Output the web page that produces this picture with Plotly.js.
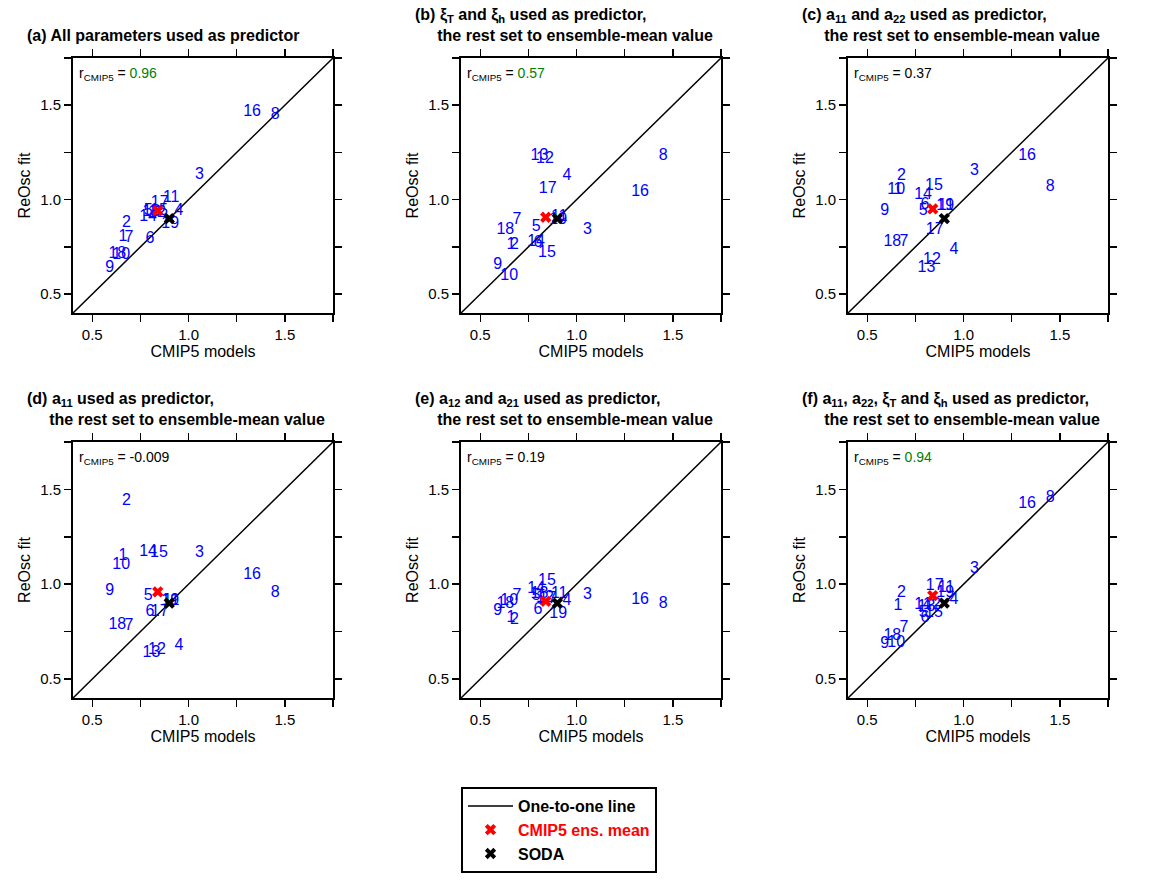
<html>
<head>
<meta charset="UTF-8">
<script src="https://cdn.plot.ly/plotly-3.0.1.min.js"></script>
</head>
<body style="margin:0;background:white;">
<div id="plot" style="width:1169px;height:888px;"></div>
<script>
    // model numbers 1..19
    const models = ['1','2','3','4','5','6','7','8','9','10','11','12','13','14','15','16','17','18','19'];
    // CMIP5 model values (x), same in every panel
    const cmip5 = [0.66, 0.677, 1.057, 0.95, 0.79, 0.80, 0.69, 1.45, 0.59, 0.65, 0.91, 0.836, 0.807, 0.79, 0.846, 1.33, 0.85, 0.63, 0.905];
    // ReOsc fit values (y) per panel
    const fitA = [0.80, 0.877, 1.132, 0.942, 0.94, 0.792, 0.797, 1.45, 0.638, 0.709, 1.009, 0.93, 0.935, 0.91, 0.94, 1.462, 0.982, 0.712, 0.873];
    const fitB = [0.762, 0.762, 0.838, 1.127, 0.855, 0.77, 0.894, 1.23, 0.656, 0.594, 0.91, 1.215, 1.23, 0.775, 0.718, 1.039, 1.057, 0.841, 0.89];
    const fitC = [1.053, 1.124, 1.15, 0.735, 0.942, 0.974, 0.774, 1.065, 0.938, 1.053, 0.965, 0.679, 0.638, 1.023, 1.071, 1.233, 0.841, 0.774, 0.968];
    const fitD = [1.148, 1.438, 1.166, 0.676, 0.937, 0.852, 0.778, 0.954, 0.963, 1.099, 0.91, 0.655, 0.638, 1.169, 1.166, 1.051, 0.852, 0.787, 0.91];
    const fitE = [0.82, 0.81, 0.942, 0.91, 0.94, 0.866, 0.937, 0.898, 0.861, 0.91, 0.946, 0.93, 0.95, 0.976, 1.016, 0.916, 0.92, 0.898, 0.843];
    const fitF = [0.884, 0.954, 1.078, 0.916, 0.85, 0.822, 0.77, 1.456, 0.685, 0.69, 0.98, 0.89, 0.88, 0.89, 0.85, 1.421, 0.993, 0.726, 0.954];
    const fits = [fitA, fitB, fitC, fitD, fitE, fitF];
    // ensemble mean and SODA
    const ensX = 0.84;
    const ensY = [0.942, 0.907, 0.951, 0.96, 0.91, 0.94];
    const sodaX = 0.9, sodaY = 0.9;
    const rVals = ['0.96', '0.57', '0.37', '-0.009', '0.19', '0.94'];
    const rGreen = [true, true, false, false, false, true];
    const titles = [
        '(a) All parameters used as predictor',
        '(b) ξ<sub>T</sub> and ξ<sub>h</sub> used as predictor,<br>     the rest set to ensemble-mean value',
        '(c) a<sub>11</sub> and a<sub>22</sub> used as predictor,<br>     the rest set to ensemble-mean value',
        '(d) a<sub>11</sub> used as predictor,<br>     the rest set to ensemble-mean value',
        '(e) a<sub>12</sub> and a<sub>21</sub> used as predictor,<br>     the rest set to ensemble-mean value',
        '(f) a<sub>11</sub>, a<sub>22</sub>, ξ<sub>T</sub> and ξ<sub>h</sub> used as predictor,<br>     the rest set to ensemble-mean value'
    ];

    const W = 1169, H = 888;
    const colsPx = [[73, 333], [461, 721], [848, 1108]];
    const rowsPx = [[58, 313], [442, 698]];
    const range = [0.4, 1.75];

    const data = [];
    const layout = {
        width: W, height: H,
        margin: { l: 0, r: 0, t: 0, b: 0 },
        paper_bgcolor: 'white', plot_bgcolor: 'white',
        font: { family: 'Liberation Sans, Arial', size: 15, color: 'black' },
        showlegend: true,
        legend: {
            x: 461 / W, y: 1 - 787 / H, xanchor: 'left', yanchor: 'top',
            bordercolor: 'black', borderwidth: 2, bgcolor: 'white',
            font: { size: 16 }, tracegroupgap: 8, itemwidth: 45
        },
        annotations: []
    };

    for (let i = 0; i < 6; i++) {
        const col = i % 3, row = Math.floor(i / 3);
        const n = i + 1;
        const xa = 'xaxis' + (n === 1 ? '' : n), ya = 'yaxis' + (n === 1 ? '' : n);
        const xr = 'x' + (n === 1 ? '' : n), yr = 'y' + (n === 1 ? '' : n);
        const axisBase = {
            range: range, tickvals: [0.5, 0.75, 1.0, 1.25, 1.5, 1.75],
            ticktext: ['0.5', '', '1.0', '', '1.5', ''],
            ticks: 'outside', ticklen: 7, tickwidth: 1.5, tickcolor: 'black',
            showline: true, linecolor: 'black', linewidth: 2, mirror: 'ticks',
            showgrid: false, zeroline: false, tickfont: { size: 15 }
        };
        layout[xa] = Object.assign({}, axisBase, {
            domain: [colsPx[col][0] / W, colsPx[col][1] / W], anchor: yr,
            title: { text: 'CMIP5 models', font: { size: 16 }, standoff: 4 }
        });
        layout[ya] = Object.assign({}, axisBase, {
            domain: [1 - rowsPx[row][1] / H, 1 - rowsPx[row][0] / H], anchor: xr,
            title: { text: 'ReOsc fit', font: { size: 16 }, standoff: 6 }
        });

        data.push({
            x: range, y: range, xaxis: xr, yaxis: yr, mode: 'lines',
            line: { color: 'black', width: 1.5 }, name: '<b>One-to-one line</b>',
            showlegend: i === 0, hoverinfo: 'skip'
        });
        data.push({
            x: cmip5, y: fits[i], text: models, xaxis: xr, yaxis: yr, mode: 'text',
            textfont: { color: 'blue', size: 16 }, showlegend: false
        });
        data.push({
            x: [ensX], y: [ensY[i]], xaxis: xr, yaxis: yr, mode: 'markers',
            marker: { symbol: 'x', color: 'red', size: 10 }, name: '<b><span style="color:red">CMIP5 ens. mean</span></b>',
            showlegend: i === 0
        });
        data.push({
            x: [sodaX], y: [sodaY], xaxis: xr, yaxis: yr, mode: 'markers',
            marker: { symbol: 'x', color: 'black', size: 10 }, name: '<b>SODA</b>',
            showlegend: i === 0
        });

        const rColor = rGreen[i] ? 'green' : 'black';
        layout.annotations.push({
            xref: 'paper', yref: 'paper',
            x: (colsPx[col][0] + 4) / W, y: 1 - (rowsPx[row][0] + 5) / H,
            xanchor: 'left', yanchor: 'top', showarrow: false, align: 'left',
            text: 'r<sub>CMIP5</sub> = <span style="color:' + rColor + '">' + rVals[i] + '</span>',
            font: { size: 14 }
        });
        layout.annotations.push({
            xref: 'paper', yref: 'paper',
            x: (colsPx[col][0] - 48) / W, y: 1 - (rowsPx[row][0] - 12) / H,
            xanchor: 'left', yanchor: 'bottom', showarrow: false, align: 'left',
            text: '<b>' + titles[i] + '</b>',
            font: { size: 16 }
        });
    }

    Plotly.newPlot('plot', data, layout, { staticPlot: true });
</script>
</body>
</html>
